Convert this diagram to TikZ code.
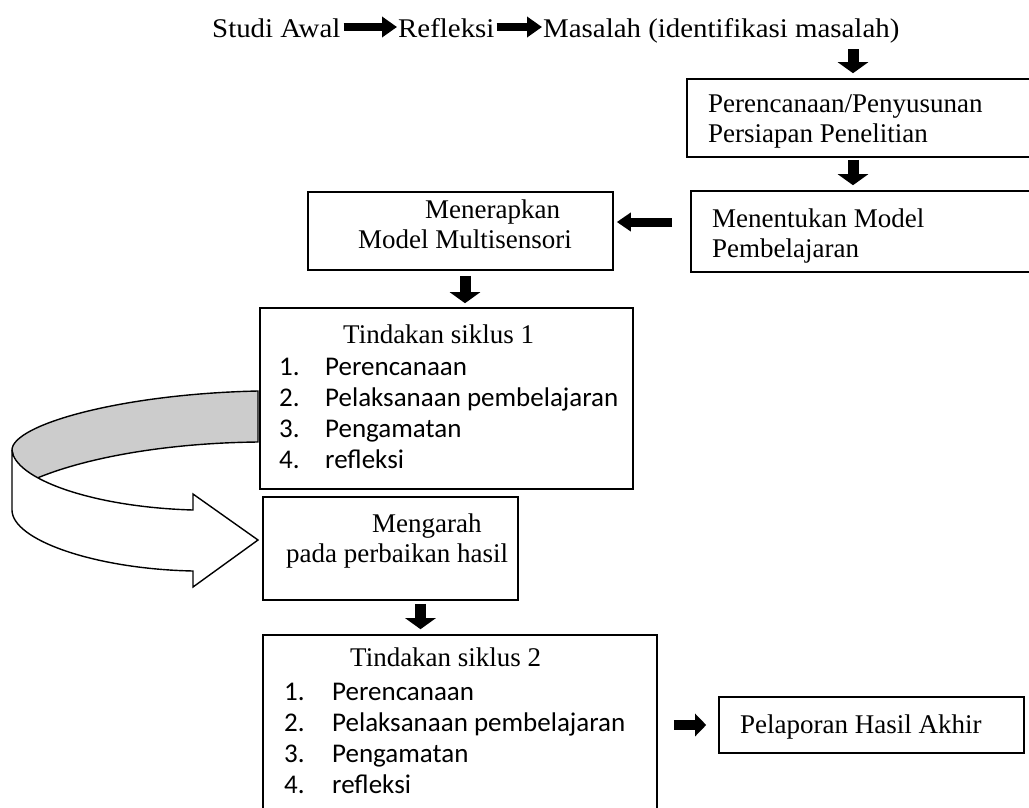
\documentclass[tikz,border=0pt]{standalone}
\usepackage{fontspec}
\setmainfont{Liberation Serif}
\newfontfamily\calibri{Carlito}
\newfontfamily\pala[FakeStretch=1.07]{Liberation Serif}
\usetikzlibrary{arrows.meta,positioning,calc}
\newcommand{\boxrows}[1]{\begin{tabular}[t]{@{}l@{}}#1\end{tabular}}
\newcommand{\itemno}[2][46pt]{\makebox[#1][l]{#2}}

\begin{document}
\begin{tikzpicture}[x=1pt,y=-1pt,
    box/.style={draw,line width=1.6pt,inner sep=0pt},
    txt/.style={inner sep=0pt,anchor=base west,font=\fontsize{27}{30}\selectfont},
    lst/.style={txt,font=\fontsize{27}{31}\selectfont},
    headline/.style={txt,font=\fontsize{27}{30}\selectfont\pala},
    lineArrow/.style={line width=8pt,-{Triangle[length=15pt,width=20pt]}},
    blk/.style={line width=11pt,-{Triangle[length=11pt,width=30pt]}},
    side/.style={line width=9pt,-{Triangle[length=14pt,width=18pt]}},
    sideR/.style={line width=10pt,-{Triangle[length=11pt,width=22pt]}}]
    \fill[white] (0,0) rectangle (1029,807);
    \useasboundingbox (0,0) rectangle (1029,807);

    % top line
    \node[headline] (studi) at (212,37) {Studi Awal};
    \node[headline] (refleksi) at (398,37) {Refleksi};
    \node[headline] (masalah) at (543,37) {Masalah (identifikasi masalah)};
    \draw[lineArrow,shorten <=3pt,shorten >=1pt] ([yshift=10pt]studi.base east) -- ([yshift=10pt]refleksi.base west);
    \draw[lineArrow,shorten <=2pt,shorten >=1pt] ([yshift=10pt]refleksi.base east) -- ([yshift=10pt]masalah.base west);

    % boxes
    \node[box,minimum width=353pt,minimum height=78pt] (planBox) at (863.5,118) {};
    \node[box,minimum width=349pt,minimum height=81pt] (modelBox) at (865.5,231.5) {};
    \node[box,minimum width=305pt,minimum height=78pt] (applyBox) at (460.5,231) {};
    \node[box,minimum width=373pt,minimum height=181pt] (cycleA) at (446.5,398.5) {};
    \node[box,minimum width=255pt,minimum height=103pt] (directBox) at (390.5,548.5) {};
    \node[box,minimum width=394pt,minimum height=195pt] (cycleB) at (460,732.5) {};
    \node[box,minimum width=305pt,minimum height=56pt] (reportBox) at (871.5,725) {};

    % texts
    \node[txt] (planTxt) at (708,112) {\boxrows{Perencanaan/Penyusunan\\Persiapan Penelitian}};
    \node[txt] (modelTxt) at (712,227) {\boxrows{Menentukan Model\\Pembelajaran}};
    \node[txt] (applyTxt) at (358,218) {\boxrows{\hspace*{67pt}Menerapkan\\Model Multisensori}};
    \node[lst] (cycleATxt) at (279,343) {\boxrows{\hspace*{64pt}Tindakan siklus 1\\[1pt]
        {\calibri\itemno{1.}Perencanaan}\\
        {\calibri\itemno{2.}Pelaksanaan pembelajaran}\\
        {\calibri\itemno{3.}Pengamatan}\\
        {\calibri\itemno{4.}refleksi}}};
    \node[txt] (directTxt) at (286,532) {\boxrows{\hspace*{86pt}Mengarah\\pada perbaikan hasil}};
    \node[lst] (cycleBTxt) at (284,666) {\boxrows{\hspace*{66pt}Tindakan siklus 2\\[3pt]
        {\calibri\itemno[48pt]{1.}Perencanaan}\\
        {\calibri\itemno[48pt]{2.}Pelaksanaan pembelajaran}\\
        {\calibri\itemno[48pt]{3.}Pengamatan}\\
        {\calibri\itemno[48pt]{4.}refleksi}}};
    \node[txt] (reportTxt) at (740,733) {Pelaporan Hasil Akhir};

    % block arrows
    \coordinate (drop) at (853,49);
    \draw[blk,shorten >=5pt] (drop) -- (drop |- planBox.north);
    \draw[blk,shorten <=2pt,shorten >=5pt] (drop |- planBox.south) -- (drop |- modelBox.north);
    \draw[side,shorten <=18pt,shorten >=3pt] ([yshift=9.5pt]modelBox.west) -- ([yshift=9.5pt]modelBox.west -| applyBox.east);
    \draw[blk,shorten <=5pt,shorten >=4pt] ([xshift=4.5pt]applyBox.south) -- ([xshift=4.5pt]applyBox.south |- cycleA.north);
    \draw[blk,shorten <=3pt,shorten >=5pt] ([xshift=30pt]directBox.south) -- ([xshift=30pt]directBox.south |- cycleB.north);
    \draw[sideR,shorten <=16pt,shorten >=12pt] (cycleB.east |- reportBox.west) -- (reportBox.west);

    % curved return arrow
    \filldraw[fill=black!20,line width=1.4pt] (258,391) .. controls (120,394) and (12,425) .. (12,450)
        -- (20,486) .. controls (70,460) and (160,443) .. (258,442) -- cycle;
    \filldraw[fill=white,line width=1.4pt] (12,450) .. controls (14,478) and (90,507) .. (193,510)
        -- (193,494) -- (258,540) -- (193,587) -- (193,571)
        .. controls (95,569) and (12,540) .. (12,510) -- cycle;
\end{tikzpicture}
\end{document}
